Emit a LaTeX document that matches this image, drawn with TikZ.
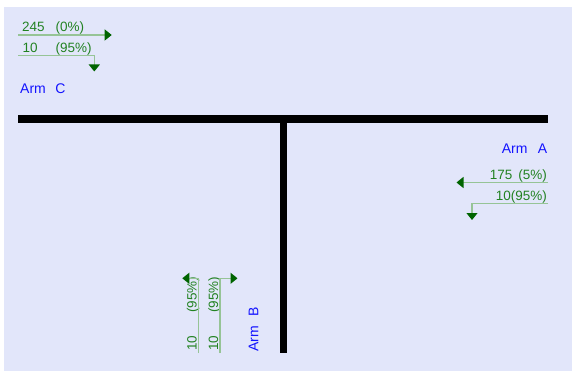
\documentclass[tikz,border=0pt]{standalone}
\usepackage{fontspec}
\setmainfont{Liberation Sans}
\usetikzlibrary{arrows.meta}
\definecolor{bgc}{RGB}{226,230,250}
\definecolor{lblgreen}{RGB}{34,130,34}
\definecolor{flowline}{RGB}{150,196,150}
\definecolor{tipgreen}{RGB}{0,100,0}
\definecolor{armblue}{RGB}{20,20,255}
\tikzset{
  flowlbl/.style={inner sep=0pt, text=lblgreen, font=\fontsize{13.5}{13.5}\selectfont},
  armlbl/.style={inner sep=0pt, text=armblue, font=\fontsize{14}{14}\selectfont},
  flow/.style={draw=flowline, line width=1.2pt, -{Triangle[length=7pt,width=11pt,fill=tipgreen,color=tipgreen]}},
  road/.style={draw=black, line width=7.5pt},
}
\begin{document}
\begin{tikzpicture}[x=1pt,y=-1pt]
\useasboundingbox (0,0) rectangle (576,377);
\fill[bgc] (4,7) rectangle (572,371);
% roads
\coordinate (hl) at (18,119);
\coordinate (hr) at (548,119);
\coordinate (vt) at (283.3,115.5);
\coordinate (vb) at (283.3,353);
\draw[road] (hl) -- (hr);
\draw[road] (vt) -- (vb);
% Arm C
\node[armlbl, anchor=base west] (armc) at (20,94) {Arm\hspace{9.5pt}C};
\node[flowlbl, anchor=base west] (c1) at (22,32) {245\hspace{11pt}(0\%)};
\node[flowlbl, anchor=base west] (c2) at (22.5,52.3) {10\hspace{18pt}(95\%)};
\coordinate (c1s) at (18.3,35);
\coordinate (c1e) at (111.7,35);
\draw[flow] (c1s) -- (c1e);
\coordinate (c2s) at (18.3,55.7);
\coordinate (c2c) at (94.3,55.7);
\coordinate (c2e) at (94.3,71.5);
\draw[flow] (c2s) -- (c2c) -- (c2e);
% Arm A
\node[armlbl, anchor=base east] (arma) at (547.5,154) {Arm\hspace{10.5pt}A};
\node[flowlbl, anchor=base east] (a1) at (547,180) {175\hspace{6pt}(5\%)};
\node[flowlbl, anchor=base east] (a2) at (547,200.5) {10(95\%)};
\coordinate (a1s) at (548,182.5);
\coordinate (a1e) at (456.5,182.5);
\draw[flow] (a1s) -- (a1e);
\coordinate (a2s) at (548,203.3);
\coordinate (a2c) at (472,203.3);
\coordinate (a2e) at (472,220);
\draw[flow] (a2s) -- (a2c) -- (a2e);
% Arm B
\node[armlbl, anchor=base west, rotate=90] (armb) at (258.3,352) {Arm\hspace{10pt}B};
\node[flowlbl, anchor=base west, rotate=90] (b1) at (196.5,351) {10\hspace{23pt}(95\%)};
\node[flowlbl, anchor=base west, rotate=90] (b2) at (218,351) {10\hspace{23pt}(95\%)};
\coordinate (b1s) at (198.3,353);
\coordinate (b1c) at (198.3,278.3);
\coordinate (b1e) at (182.3,278.3);
\draw[flow] (b1s) -- (b1c) -- (b1e);
\coordinate (b2s) at (220,353);
\coordinate (b2c) at (220,278.3);
\coordinate (b2e) at (237.5,278.3);
\draw[flow] (b2s) -- (b2c) -- (b2e);
\end{tikzpicture}
\end{document}
